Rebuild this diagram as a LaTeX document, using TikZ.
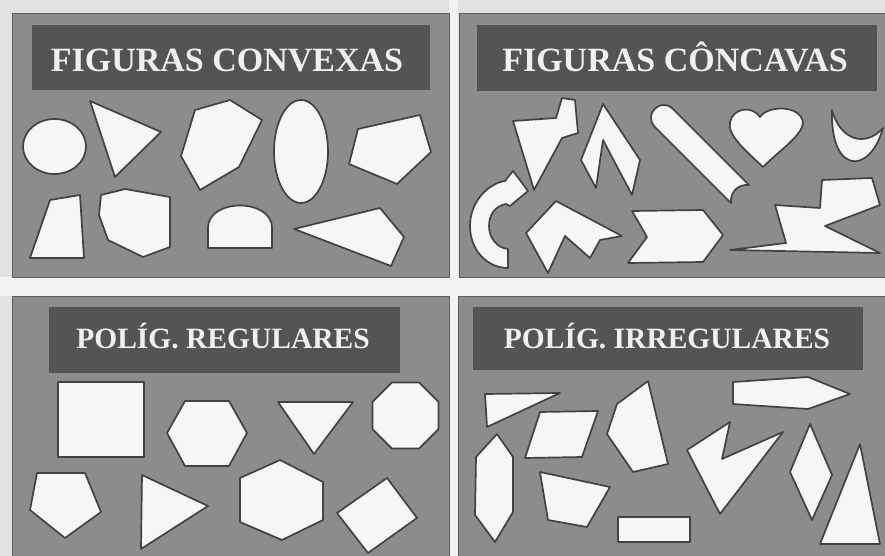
\documentclass[tikz,border=0pt]{standalone}
\usepackage{fontspec}
\setmainfont{Liberation Serif}
\definecolor{pagegray}{RGB}{226,226,226}
\definecolor{gapwhite}{RGB}{243,243,243}
\definecolor{panelgray}{RGB}{140,140,140}
\definecolor{bargray}{RGB}{84,84,84}
\definecolor{figfill}{RGB}{246,246,246}
\definecolor{figedge}{RGB}{66,66,66}
\tikzset{
  panelbg/.style={fill=panelgray, draw=figedge!85, line width=1pt},
  titlebar/.style={fill=bargray, draw=none, inner sep=0pt},
  titletxt/.style={text=white!94!black, inner sep=0pt, anchor=base,
    font=\bfseries\fontsize{#1}{#1}\selectfont},
  titletxt/.default=34,
  figln/.style={fill=figfill, draw=figedge, line width=1.7pt, line join=round},
}

\begin{document}
\begin{tikzpicture}[x=1pt, y=-1pt]
  \useasboundingbox (0,0) rectangle (885,556);
  \fill[pagegray] (0,0) rectangle (885,556);
  \fill[gapwhite] (0,277) rectangle (885,296);
  \fill[gapwhite] (449,0) rectangle (458,556);
  \draw[panelbg] (12,14) rectangle (449,277);
  \draw[panelbg] (459,14) rectangle (886,277);
  \draw[panelbg] (12,296) rectangle (449,557);
  \draw[panelbg] (458,296) rectangle (886,557);

  \node[titlebar, minimum width=398, minimum height=65] (bar1) at (231,57.5) {};
  \node[titlebar, minimum width=400, minimum height=66] (bar2) at (677,58) {};
  \node[titlebar, minimum width=351, minimum height=66] (bar3) at (224.5,340) {};
  \node[titlebar, minimum width=390, minimum height=63] (bar4) at (668,338.5) {};
  \node[titletxt] (ttl1) at (227,72) {FIGURAS CONVEXAS};
  \node[titletxt] (ttl2) at (675,72) {FIGURAS CÔNCAVAS};
  \node[titletxt=29.5] (ttl3) at (223,348) {POLÍG. REGULARES};
  \node[titletxt=29.5] (ttl4) at (667,348) {POLÍG. IRREGULARES};

  \draw[figln] (54.5,146.5) ellipse [x radius=31.5, y radius=27.5];
  \draw[figln] (90,101) -- (161,132) -- (115,177) -- cycle;
  \draw[figln] (195,110) -- (230,100) -- (262,120) -- (239,167) -- (200,190) -- (181,156) -- cycle;
  \draw[figln] (301,151.5) ellipse [x radius=27, y radius=51.5];
  \draw[figln] (358,129) -- (420,115) -- (431,152) -- (397,184) -- (349,164) -- cycle;
  \draw[figln] (50,200) -- (80,195) -- (84,258) -- (30,258) -- cycle;
  \draw[figln] (101,195) -- (125,189) -- (170,197) -- (170,247) -- (143,257) -- (108,240) -- (99,215) -- cycle;
  \draw[figln] (208,248) -- (208,228) .. controls (208,198) and (272,198) .. (272,228) -- (272,248) -- cycle;
  \draw[figln] (294,229) -- (380,208) -- (404,237) -- (391,266) -- cycle;

  \draw[figln] (513,121) -- (556,118) -- (562,98) -- (575,100) -- (578,133) -- (562,138) -- (534,190) -- cycle;
  \draw[figln] (603,104) -- (640,160) -- (632,195) -- (603,140) -- (596,188) -- (581,160) -- cycle;
  \draw[figln] (673,109) -- (749,185) .. controls (738,184) and (730,192) .. (731,203) -- (655,127)
    .. controls (642.7,114.7) and (660.7,96.7) .. cycle;
  \draw[figln] (763,167) .. controls (745,150) and (727,135) .. (730,122) .. controls (733,108) and (752,105) .. (760,117)
    .. controls (768,105) and (800,105) .. (803,122) .. controls (803,135) and (780,150) .. cycle;
  \draw[figln] (832,110) .. controls (830,175) and (870,175) .. (883,128) .. controls (865,148) and (840,140) .. cycle;
  \draw[figln] (508,268) .. controls (487,268) and (470,250) .. (470,226) .. controls (470,200) and (490,183) .. (505,181)
    -- (513,171) -- (528,191) -- (510,206) -- (506,204) .. controls (495,206) and (489,215) .. (489,226)
    .. controls (489,238) and (497,248) .. (508,249) -- cycle;
  \draw[figln] (526,233) -- (556,201) -- (622,236) -- (600,240) -- (590,258) -- (565,236) -- (548,273) -- cycle;
  \draw[figln] (632,211) -- (703,210) -- (723,235) -- (703,262) -- (628,263) -- (647,237) -- cycle;
  \draw[figln] (822,180) -- (872,178) -- (880,205) -- (825,226) -- (880,253) -- (730,250) -- (786,243) -- (775,205) -- (820,208) -- cycle;

  \draw[figln] (58,382) rectangle (144,457);
  \draw[figln] (167,433) -- (185,401) -- (229,401) -- (247,433) -- (229,466) -- (185,466) -- cycle;
  \draw[figln] (278,402) -- (353,402) -- (314,454) -- cycle;
  \draw[figln] (405.5,415.5) +(22.5:35.7) -- +(67.5:35.7) -- +(112.5:35.7) -- +(157.5:35.7)
    -- +(202.5:35.7) -- +(247.5:35.7) -- +(292.5:35.7) -- +(337.5:35.7) -- cycle;
  \draw[figln] (37,473) -- (85,473) -- (101,512) -- (65,538) -- (30,510) -- cycle;
  \draw[figln] (142,475) -- (208,506) -- (141,549) -- cycle;
  \draw[figln] (280,460) -- (323,482) -- (323,520) -- (282,540) -- (240,522) -- (240,478) -- cycle;
  \draw[figln] (337,513) -- (387,478) -- (417,518) -- (368,553) -- cycle;

  \draw[figln] (485,394) -- (560,393) -- (487,427) -- cycle;
  \draw[figln] (540,412) -- (598,411) -- (582,457) -- (525,458) -- cycle;
  \draw[figln] (617,404) -- (648,381) -- (668,464) -- (633,472) -- (607,434) -- cycle;
  \draw[figln] (497,434) -- (513,457) -- (513,512) -- (495,542) -- (475,515) -- (476,457) -- cycle;
  \draw[figln] (540,472) -- (610,487) -- (587,527) -- (548,520) -- cycle;
  \draw[figln] (618,517) rectangle (690,542);
  \draw[figln] (733,382) -- (808,377) -- (850,394) -- (808,409) -- (733,404) -- cycle;
  \draw[figln] (687,450) -- (730,422) -- (722,459) -- (783,432) -- (720,514) -- cycle;
  \draw[figln] (810,424) -- (832,475) -- (812,520) -- (790,472) -- cycle;
  \draw[figln] (860,444) -- (880,544) -- (820,544) -- cycle;
\end{tikzpicture}
\end{document}
